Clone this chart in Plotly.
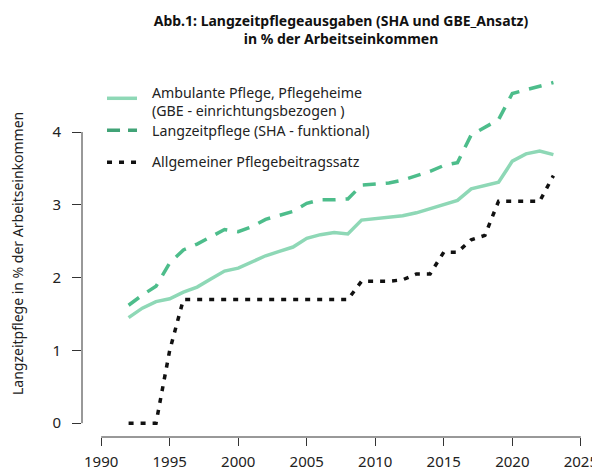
import plotly.graph_objects as go

years = list(range(1992, 2024))

ambulant_gbe = [1.45, 1.58, 1.67, 1.71, 1.80, 1.87, 1.98, 2.09, 2.13, 2.21,
                2.30, 2.36, 2.42, 2.54, 2.59, 2.62, 2.60, 2.79, 2.81, 2.82,
                2.85, 2.89, 2.95, 3.00, 3.06, 3.22, 3.26, 3.31, 3.60, 3.70,
                3.74, 3.69]

langzeit_sha = [1.62, 1.76, 1.88, 2.20, 2.38, 2.46, 2.56, 2.66, 2.63, 2.70,
                2.80, 2.85, 2.91, 3.02, 3.07, 3.07, 3.08, 3.27, 3.29, 3.30,
                3.34, 3.40, 3.46, 3.54, 3.58, 3.96, 4.06, 4.17, 4.53, 4.58,
                4.63, 4.68]

beitragssatz = [0.0, 0.0, 0.0, 1.0, 1.7, 1.7, 1.7, 1.7, 1.7, 1.7,
                1.7, 1.7, 1.7, 1.7, 1.7, 1.7, 1.7, 1.95, 1.95, 1.95,
                1.97, 2.05, 2.05, 2.35, 2.35, 2.52, 2.58, 3.05, 3.05, 3.05,
                3.05, 3.40]

x_ticks = [1990, 1995, 2000, 2005, 2010, 2015, 2020, 2025]
y_ticks = [0, 1, 2, 3, 4]

legend_labels = ["Ambulante Pflege, Pflegeheime<br>(GBE - einrichtungsbezogen )",
                 "Langzeitpflege (SHA - funktional)",
                 "Allgemeiner Pflegebeitragssatz"]

title_text = "<b>Abb.1: Langzeitpflegeausgaben (SHA und GBE_Ansatz)<br>in % der Arbeitseinkommen</b>"
y_title = "Langzeitpflege in % der Arbeitseinkommen"

C_SOLID = "#8ed8b6"
C_DASH = "#4dbd8b"
C_DASH_LEG = "#41a377"
C_DOT = "#111111"
FONT = "Noto Sans"
AX = "#333333"

fig = go.Figure()
fig.add_trace(go.Scatter(x=years, y=ambulant_gbe, mode="lines",
                         line=dict(color=C_SOLID, width=3.5), showlegend=False))
fig.add_trace(go.Scatter(x=years, y=langzeit_sha, mode="lines",
                         line=dict(color=C_DASH, width=3.5, dash="13px,10px"), showlegend=False))
fig.add_trace(go.Scatter(x=years, y=beitragssatz, mode="lines",
                         line=dict(color=C_DOT, width=3.5, dash="5px,7px"), showlegend=False))

shapes = []
# axis lines (R style: only between first and last tick)
shapes.append(dict(type="line", xref="x", yref="paper", x0=x_ticks[0], x1=x_ticks[-1],
                   y0=0, y1=0, line=dict(color=AX, width=1)))
shapes.append(dict(type="line", xref="paper", yref="y", x0=0, x1=0,
                   y0=y_ticks[0], y1=y_ticks[-1], line=dict(color=AX, width=1)))

# manual legend (R bty="n")
leg_x0, leg_x1, leg_tx = 0.0483, 0.1062, 0.1313
leg_y = [0.9204, 0.8336, 0.7467]
leg_styles = [dict(color=C_SOLID, width=3.5),
              dict(color=C_DASH_LEG, width=3.5, dash="13px,8px"),
              dict(color=C_DOT, width=3.5, dash="5px,7px")]
for yy, st in zip(leg_y, leg_styles):
    shapes.append(dict(type="line", xref="paper", yref="paper", x0=leg_x0, x1=leg_x1,
                       y0=yy, y1=yy, line=st))

annotations = []
text_y = [0.9127, 0.8336, 0.7475]
for ty, tt in zip(text_y, legend_labels):
    annotations.append(dict(text=tt, xref="paper", yref="paper", x=leg_tx, y=ty,
                            xanchor="left", yanchor="middle", align="left", showarrow=False,
                            font=dict(family=FONT, size=14.2, color="#222222")))

annotations.append(dict(text=y_title, xref="paper", yref="paper", x=-0.1255, y=0.5,
                        xanchor="center", yanchor="middle", textangle=-90, showarrow=False,
                        font=dict(family=FONT, size=14, color="#222222")))

# page body has an 8px margin: figure is sized/offset to compensate
fig.update_layout(
    width=592, height=464,
    margin=dict(l=74, r=0, t=61, b=35, autoexpand=False),
    paper_bgcolor="white", plot_bgcolor="white",
    title=dict(text=title_text, x=0.5, xref="paper", xanchor="center",
               y=0.962, yref="container", yanchor="middle",
               font=dict(family=FONT, size=14, color="#111111")),
    shapes=shapes, annotations=annotations,
    font=dict(family=FONT, color="#222222"),
)
fig.update_xaxes(range=[1988.6, 2026.4], showgrid=False, zeroline=False, showline=False,
                 automargin=False,
                 tickmode="array", tickvals=x_ticks, ticks="outside", ticklen=8,
                 tickcolor=AX, tickfont=dict(family=FONT, size=15, color="#222222"),
                 ticklabelstandoff=3)
fig.update_yaxes(range=[-0.19, 4.866], showgrid=False, zeroline=False, showline=False,
                 automargin=False,
                 tickmode="array", tickvals=y_ticks, ticks="outside", ticklen=9,
                 tickcolor=AX, tickfont=dict(family=FONT, size=15, color="#222222"),
                 ticklabelstandoff=8)

fig.write_html("out.html")
